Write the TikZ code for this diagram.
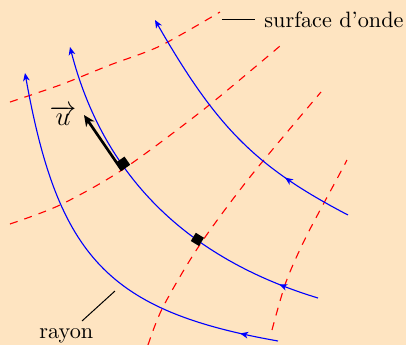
\documentclass[tikz,border=0pt]{standalone}
\usetikzlibrary{arrows.meta,decorations.markings}
\definecolor{bgc}{RGB}{254,228,193}
\begin{document}
\begin{tikzpicture}[x=0.45pt,y=-0.45pt,
  tip/.style={Stealth[length=3.6pt,width=3pt,inset=1pt]},
  ray/.style={blue, line width=0.5pt, -{Stealth[length=3.6pt,width=3pt,inset=1pt]}},
  midarrow/.style={postaction={decorate, decoration={markings,
      mark=at position #1 with {\arrow{Stealth[length=3.6pt,width=3pt,inset=1pt]}}}}},
  wave/.style={red, line width=0.5pt, dash pattern=on 3.6pt off 3.2pt},
  normalmark/.style={fill=black},
  labelline/.style={black, line width=0.45pt},
  lbl/.style={inner sep=0pt, anchor=base west}]
\fill[bgc] (0,0) rectangle (406,345);
\useasboundingbox (0,0) rectangle (406,345);
% wave surfaces
\draw[wave] plot[smooth] coordinates {(10,102) (60,85) (110,65) (160,46) (220,12)};
\draw[wave] plot[smooth] coordinates {(10,224) (60,205) (122,170) (203,110) (280,46)};
\draw[wave] plot[smooth] coordinates {(148,345) (163,307) (199,246) (250,177) (321,92)};
\draw[wave] plot[smooth] coordinates {(272,330) (286,282) (306,237) (338,177) (347,160)};
% rays
\coordinate (a0) at (278,341); \coordinate (a1) at (25,73);
\coordinate (b0) at (318,298); \coordinate (b1) at (70,47);
\coordinate (c0) at (348,215); \coordinate (c1) at (155,20);
\draw[ray, midarrow=17.4pt] (a0) .. controls (108,311) and (58,257) .. (a1);
\draw[ray, midarrow=18.5pt] (b0) .. controls (186,258) and (103,175) .. (b1);
\draw[ray, midarrow=33pt] (c0) .. controls (256,167) and (217,128) .. (c1);
% right-angle marks
\coordinate (i1) at (122,170.5);
\coordinate (i2) at (199,246);
\fill[normalmark] (i1) -- ++(-5.7,-8.2) -- ++(8.2,-5.7) -- ++(5.7,8.2) -- cycle;
\fill[normalmark] (i2) -- ++(-8.2,-5) -- ++(5,-8.2) -- ++(8.2,5) -- cycle;
% unit vector
\coordinate (utip) at (84,115);
\draw[line width=1.2pt, -{Stealth[length=5pt,width=4.5pt,inset=1.5pt]}] (i1) -- (utip);
\node[inner sep=0pt, anchor=base] (ulbl) at (63,125) {\large$\overrightarrow{u}$};
% labels
\node[lbl] (surf) at (264,27) {surface d'onde};
\coordinate (s0) at (222,19); \coordinate (s1) at (255,19);
\draw[labelline] (s0) -- (s1);
\node[lbl] (rayon) at (39,338.5) {rayon};
\coordinate (r0) at (82,321); \coordinate (r1) at (115,291);
\draw[labelline] (r0) -- (r1);
\end{tikzpicture}
\end{document}
